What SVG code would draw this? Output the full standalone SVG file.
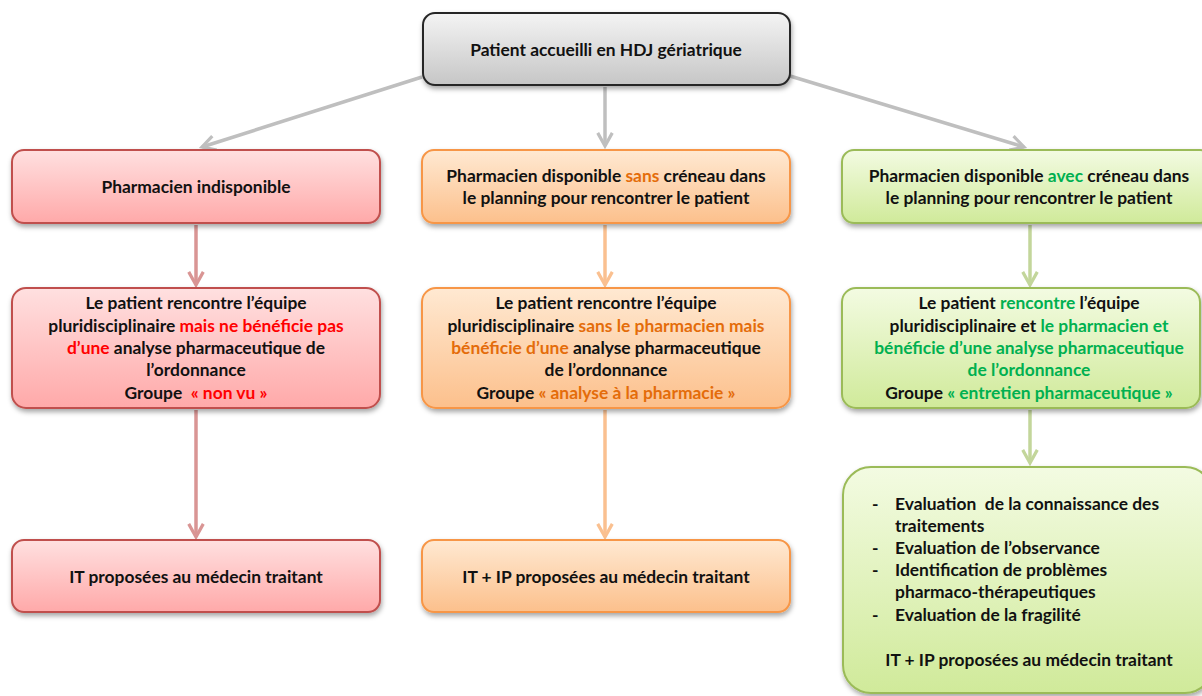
<svg xmlns="http://www.w3.org/2000/svg" width="1202" height="696" viewBox="0 0 1202 696">
<defs>
<style>
text{font-family:Lato,"Open Sans","Liberation Sans",sans-serif;font-weight:bold;font-size:17.4px;fill:#111;}
.c{text-anchor:middle;}
.r{fill:#ff0000;} .o{fill:#e46c0a;} .g{fill:#00b050;}
.box{stroke-width:2;filter:url(#sh);}
.top{fill:url(#gGray);stroke:#262626;}
.red{fill:url(#gRed);stroke:#c0504d;}
.org{fill:url(#gOrg);stroke:#f79646;}
.grn{fill:url(#gGrn);stroke:#9bbb59;}
.ln{fill:none;stroke-width:3.5;}
.lg{stroke:#bfbfbf;} .lr{stroke:#d99594;} .lo{stroke:#fac090;} .lgr{stroke:#c3d69b;}
</style>
<filter id="sh" x="-10%" y="-20%" width="125%" height="150%">
<feDropShadow dx="1" dy="3" stdDeviation="2.5" flood-color="#000" flood-opacity="0.35"/>
</filter>
<linearGradient id="gGray" x1="0" y1="0" x2="0" y2="1"><stop offset="0" stop-color="#f4f4f4"/><stop offset="1" stop-color="#c6c6c6"/></linearGradient>
<linearGradient id="gRed" x1="0" y1="0" x2="0" y2="1"><stop offset="0" stop-color="#ffe0e0"/><stop offset="1" stop-color="#ffa9a9"/></linearGradient>
<linearGradient id="gOrg" x1="0" y1="0" x2="0" y2="1"><stop offset="0" stop-color="#ffe9d2"/><stop offset="1" stop-color="#fcc08c"/></linearGradient>
<linearGradient id="gGrn" x1="0" y1="0" x2="0" y2="1"><stop offset="0" stop-color="#f3fbe2"/><stop offset="1" stop-color="#d0ea9a"/></linearGradient>
<marker id="aGray" viewBox="0 0 12 12" refX="10" refY="6" markerWidth="5" markerHeight="5" orient="auto" markerUnits="strokeWidth"><path d="M1,1 L10,6 L1,11" fill="none" stroke="#bfbfbf" stroke-width="2.2"/></marker>
<marker id="aRed" viewBox="0 0 12 12" refX="10" refY="6" markerWidth="5" markerHeight="5" orient="auto" markerUnits="strokeWidth"><path d="M1,1 L10,6 L1,11" fill="none" stroke="#d99594" stroke-width="2.2"/></marker>
<marker id="aOrg" viewBox="0 0 12 12" refX="10" refY="6" markerWidth="5" markerHeight="5" orient="auto" markerUnits="strokeWidth"><path d="M1,1 L10,6 L1,11" fill="none" stroke="#fac090" stroke-width="2.2"/></marker>
<marker id="aGrn" viewBox="0 0 12 12" refX="10" refY="6" markerWidth="5" markerHeight="5" orient="auto" markerUnits="strokeWidth"><path d="M1,1 L10,6 L1,11" fill="none" stroke="#c3d69b" stroke-width="2.2"/></marker>
</defs>
<rect width="1202" height="696" fill="#fff"/>

<g id="connectors">
<line class="ln lg" x1="422" y1="77" x2="202" y2="147" marker-end="url(#aGray)"/>
<line class="ln lg" x1="605" y1="87" x2="605" y2="146" marker-end="url(#aGray)"/>
<line class="ln lg" x1="790" y1="76" x2="1024" y2="147" marker-end="url(#aGray)"/>
<line class="ln lr" x1="196" y1="225" x2="196" y2="285" marker-end="url(#aRed)"/>
<line class="ln lo" x1="605" y1="225" x2="605" y2="285" marker-end="url(#aOrg)"/>
<line class="ln lgr" x1="1030" y1="225" x2="1030" y2="285" marker-end="url(#aGrn)"/>
<line class="ln lr" x1="196" y1="410" x2="196" y2="537" marker-end="url(#aRed)"/>
<line class="ln lo" x1="605" y1="410" x2="605" y2="537" marker-end="url(#aOrg)"/>
<line class="ln lgr" x1="1030" y1="410" x2="1030" y2="463" marker-end="url(#aGrn)"/>
</g>

<g id="n-top">
<rect class="box top" x="423" y="13" width="367" height="72" rx="12"/>
<text class="c" x="606" y="56">Patient accueilli en HDJ gériatrique</text>
</g>

<g id="n-red1">
<rect class="box red" x="12" y="150" width="368" height="73" rx="12"/>
<text class="c" x="196" y="193">Pharmacien indisponible</text>
</g>
<g id="n-org1">
<rect class="box org" x="422" y="150" width="368" height="73" rx="12"/>
<text class="c" x="606" y="182">Pharmacien disponible <tspan class="o">sans</tspan> créneau dans</text>
<text class="c" x="606" y="204">le planning pour rencontrer le patient</text>
</g>
<g id="n-grn1">
<rect class="box grn" x="842" y="150" width="370" height="73" rx="12"/>
<text class="c" x="1029" y="182">Pharmacien disponible <tspan class="g">avec</tspan> créneau dans</text>
<text class="c" x="1029" y="204">le planning pour rencontrer le patient</text>
</g>

<g id="n-red2">
<rect class="box red" x="12" y="288" width="368" height="120" rx="14"/>
<text class="c" x="196" y="309">Le patient rencontre l’équipe</text>
<text class="c" x="196" y="332">pluridisciplinaire <tspan class="r">mais ne bénéficie pas</tspan></text>
<text class="c" x="196" y="354"><tspan class="r">d’une</tspan> analyse pharmaceutique de</text>
<text class="c" x="196" y="376">l’ordonnance</text>
<text class="c" x="196" y="399">Groupe&#160; <tspan class="r">« non vu »</tspan></text>
</g>
<g id="n-org2">
<rect class="box org" x="422" y="288" width="368" height="120" rx="14"/>
<text class="c" x="606" y="309">Le patient rencontre l’équipe</text>
<text class="c" x="606" y="332">pluridisciplinaire <tspan class="o">sans le pharmacien mais</tspan></text>
<text class="c" x="606" y="354"><tspan class="o">bénéficie d’une</tspan> analyse pharmaceutique</text>
<text class="c" x="606" y="376">de l’ordonnance</text>
<text class="c" x="606" y="399">Groupe <tspan class="o">« analyse à la pharmacie »</tspan></text>
</g>
<g id="n-grn2">
<rect class="box grn" x="842" y="288" width="358" height="120" rx="14"/>
<text class="c" x="1029" y="309">Le patient <tspan class="g">rencontre</tspan> l’équipe</text>
<text class="c" x="1029" y="332">pluridisciplinaire et <tspan class="g">le pharmacien et</tspan></text>
<text class="c g" x="1029" y="354">bénéficie d’une analyse pharmaceutique</text>
<text class="c g" x="1029" y="376">de l’ordonnance</text>
<text class="c" x="1029" y="399">Groupe <tspan class="g">« entretien pharmaceutique »</tspan></text>
</g>

<g id="n-red3">
<rect class="box red" x="12" y="540" width="368" height="72" rx="12"/>
<text class="c" x="196" y="583">IT proposées au médecin traitant</text>
</g>
<g id="n-org3">
<rect class="box org" x="422" y="540" width="368" height="72" rx="12"/>
<text class="c" x="606" y="583">IT + IP proposées au médecin traitant</text>
</g>

<g id="n-grn3">
<rect class="box grn" x="843" y="467" width="370" height="226" rx="28"/>
<text x="872" y="510">-</text><text x="895" y="510">Evaluation&#160; de la connaissance des</text>
<text x="895" y="532">traitements</text>
<text x="872" y="554">-</text><text x="895" y="554">Evaluation de l’observance</text>
<text x="872" y="576">-</text><text x="895" y="576">Identification de problèmes</text>
<text x="895" y="598">pharmaco-thérapeutiques</text>
<text x="872" y="621">-</text><text x="895" y="621">Evaluation de la fragilité</text>
<text class="c" x="1029" y="666">IT + IP proposées au médecin traitant</text>
</g>
</svg>
